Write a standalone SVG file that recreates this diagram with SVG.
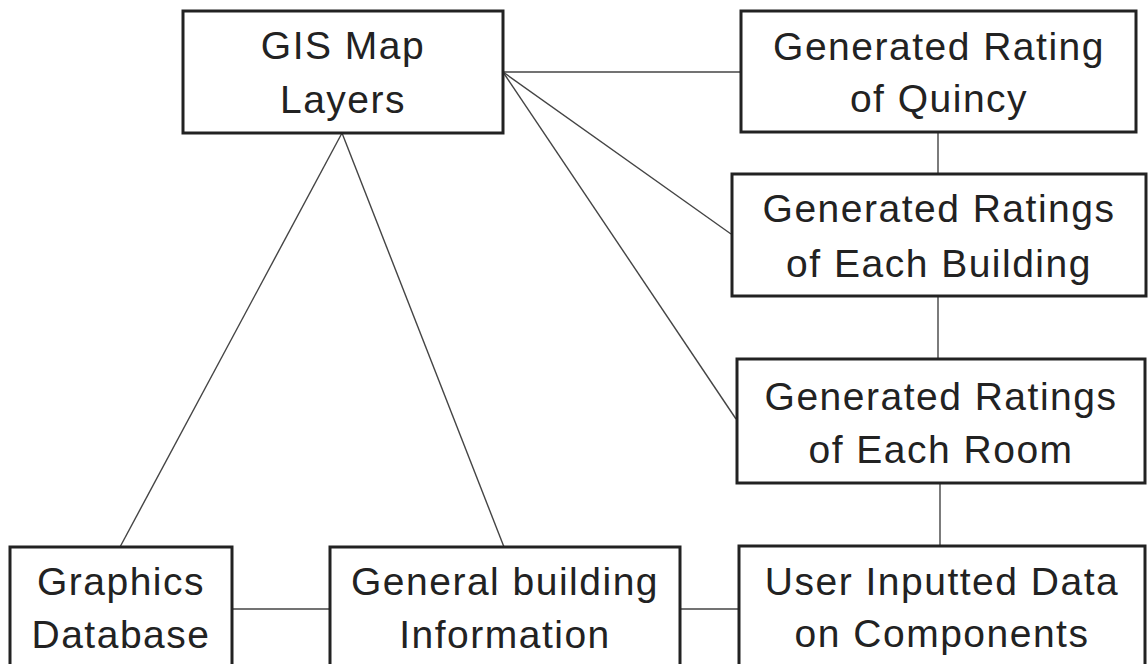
<svg xmlns="http://www.w3.org/2000/svg" width="1148" height="664" viewBox="0 0 1148 664">
<style>
.box{fill:#fff;stroke:#222;stroke-width:3}
.lbl{font-family:"Liberation Sans",Arial,sans-serif;font-size:39px;fill:#222;text-anchor:middle;letter-spacing:1.5px}
.con{stroke:#444;stroke-width:1.4;fill:none}
</style>
<rect width="1148" height="664" fill="#fff"/>
<g id="connectors">
<line class="con" x1="342" y1="133" x2="120" y2="547"/>
<line class="con" x1="342" y1="133" x2="504" y2="547"/>
<line class="con" x1="503" y1="72" x2="741" y2="72"/>
<line class="con" x1="503" y1="72" x2="731" y2="234"/>
<line class="con" x1="503" y1="72" x2="736" y2="419"/>
<line class="con" x1="938" y1="132" x2="938" y2="174"/>
<line class="con" x1="938" y1="296" x2="938" y2="359"/>
<line class="con" x1="940" y1="483" x2="940" y2="546"/>
<line class="con" x1="232" y1="609" x2="330" y2="609"/>
<line class="con" x1="680" y1="609" x2="739" y2="609"/>
</g>
<g id="gis">
<rect class="box" x="183" y="11" width="320" height="122"/>
<text class="lbl" x="343" y="59">GIS Map</text>
<text class="lbl" x="343" y="113">Layers</text>
</g>
<g id="quincy">
<rect class="box" x="741" y="11" width="395" height="121"/>
<text class="lbl" x="939" y="60">Generated Rating</text>
<text class="lbl" x="939" y="112">of Quincy</text>
</g>
<g id="building">
<rect class="box" x="732" y="174" width="414" height="122"/>
<text class="lbl" x="939" y="222">Generated Ratings</text>
<text class="lbl" x="939" y="277">of Each Building</text>
</g>
<g id="room">
<rect class="box" x="737" y="359" width="408" height="124"/>
<text class="lbl" x="941" y="410">Generated Ratings</text>
<text class="lbl" x="941" y="463">of Each Room</text>
</g>
<g id="user">
<rect class="box" x="739" y="546" width="406" height="140"/>
<text class="lbl" x="942" y="595">User Inputted Data</text>
<text class="lbl" x="942" y="647">on Components</text>
</g>
<g id="graphics">
<rect class="box" x="10" y="547" width="222" height="140"/>
<text class="lbl" x="121" y="595">Graphics</text>
<text class="lbl" x="121" y="648">Database</text>
</g>
<g id="general">
<rect class="box" x="330" y="547" width="350" height="140"/>
<text class="lbl" x="505" y="595">General building</text>
<text class="lbl" x="505" y="648">Information</text>
</g>
</svg>
